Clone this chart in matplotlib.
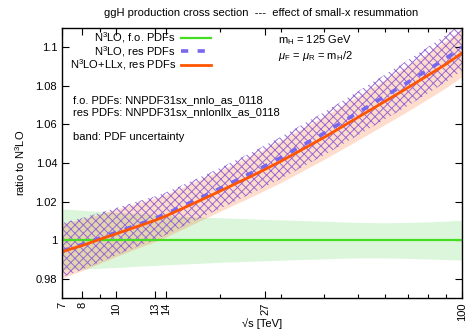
import numpy as np
import matplotlib
matplotlib.use("Agg")
import matplotlib.pyplot as plt
from matplotlib.lines import Line2D
from matplotlib.ticker import FixedLocator, FixedFormatter

plt.rcParams['font.family'] = ['Liberation Sans', 'DejaVu Sans']
plt.rcParams['mathtext.fontset'] = 'custom'
plt.rcParams['mathtext.rm'] = 'Liberation Sans'
plt.rcParams['mathtext.it'] = 'Liberation Sans:italic'
plt.rcParams['hatch.linewidth'] = 0.7

# collider energy sqrt(s) in TeV
sqrts = [7, 8, 9, 10, 12, 13, 14, 17.5, 20, 25, 27, 30, 40, 50, 60, 70, 80, 90, 100]

# N3LO with fixed-order PDFs (reference, ratio = 1) and its PDF band
fo = [1.0, 1.0, 1.0, 1.0, 1.0, 1.0, 1.0, 1.0, 1.0, 1.0,
      1.0, 1.0, 1.0, 1.0, 1.0, 1.0, 1.0, 1.0, 1.0]
fo_lo = [0.9846, 0.9850, 0.9854, 0.9858, 0.9866, 0.9869, 0.9872, 0.9880, 0.9885, 0.9891,
         0.9893, 0.9896, 0.9903, 0.9908, 0.9908, 0.9905, 0.9902, 0.9899, 0.9897]
fo_hi = [1.0162, 1.0155, 1.0149, 1.0144, 1.0136, 1.0132, 1.0128, 1.0120, 1.0116, 1.0110,
         1.0108, 1.0105, 1.0098, 1.0092, 1.0090, 1.0092, 1.0095, 1.0099, 1.0103]

# N3LO with resummed PDFs
res = [0.9944, 0.9977, 1.0010, 1.0039, 1.0090, 1.0113, 1.0137, 1.0218, 1.0268, 1.0354,
       1.0385, 1.0428, 1.0555, 1.0661, 1.0747, 1.0820, 1.0885, 1.0943, 1.1001]
res_lo = [0.9808, 0.9847, 0.9886, 0.9921, 0.9979, 1.0002, 1.0028, 1.0113, 1.0163, 1.0247,
          1.0277, 1.0318, 1.0441, 1.0543, 1.0627, 1.0698, 1.0763, 1.0821, 1.0879]
res_hi = [1.0089, 1.0115, 1.0142, 1.0166, 1.0209, 1.0227, 1.0248, 1.0326, 1.0374, 1.0460,
          1.0492, 1.0536, 1.0664, 1.0771, 1.0859, 1.0935, 1.1003, 1.1064, 1.1126]

# N3LO+LLx with resummed PDFs
llx = [0.9940, 0.9972, 1.0004, 1.0032, 1.0081, 1.0103, 1.0126, 1.0205, 1.0254, 1.0337,
       1.0367, 1.0409, 1.0533, 1.0636, 1.0720, 1.0792, 1.0856, 1.0913, 1.0970]
llx_lo = [0.9804, 0.9842, 0.9880, 0.9914, 0.9970, 0.9992, 1.0017, 1.0100, 1.0149, 1.0230,
          1.0259, 1.0299, 1.0419, 1.0518, 1.0600, 1.0670, 1.0734, 1.0791, 1.0848]
llx_hi = [1.0085, 1.0110, 1.0136, 1.0159, 1.0200, 1.0217, 1.0237, 1.0313, 1.0360, 1.0443,
          1.0474, 1.0517, 1.0642, 1.0746, 1.0832, 1.0907, 1.0974, 1.1034, 1.1095]

xticks = [7, 8, 10, 13, 14, 27, 100]
xminor = [9, 20, 30, 40, 50, 60, 70, 80, 90]
yticks = [0.98, 1.0, 1.02, 1.04, 1.06, 1.08, 1.1]

green = '#44dd22'
orange = '#ff5500'
purple = '#7766ee'
hatchcol = '#9a6ad0'

fig = plt.figure(figsize=(4.67, 3.30), dpi=100)
ax = fig.add_axes([0.1328, 0.0970, 0.8565, 0.8182])

ax.fill_between(sqrts, fo_lo, fo_hi, color='#33cc33', alpha=0.17, lw=0)
ax.fill_between(sqrts, llx_lo, llx_hi, color='#ff5500', alpha=0.2, lw=0)
ax.fill_between(sqrts, res_lo, res_hi, facecolor='none', edgecolor=hatchcol,
                hatch='xxxx', lw=0)

ax.plot(sqrts, fo, color=green, lw=1.6)
ax.plot(sqrts, res, color=purple, lw=2.6, dashes=(2.0, 2.6))
ax.plot(sqrts, llx, color=orange, lw=2.0)

ax.set_xscale('log')
ax.set_xlim(7, 100)
ax.set_ylim(0.97, 1.11)

ax.xaxis.set_major_locator(FixedLocator(xticks))
ax.xaxis.set_major_formatter(FixedFormatter([str(t) for t in xticks]))
ax.xaxis.set_minor_locator(FixedLocator(xminor))
ax.xaxis.set_minor_formatter(FixedFormatter([''] * len(xminor)))
ax.set_yticks(yticks)
ax.set_yticklabels(['%g' % t for t in yticks])

ax.tick_params(which='both', direction='in', top=True, right=True, labelsize=8)
ax.tick_params(which='major', length=5, width=0.8)
ax.tick_params(which='minor', length=3, width=0.8)
ax.tick_params(axis='x', labelrotation=90, pad=3)
for lab in ax.get_xticklabels():
    lab.set_va('top')
for sp in ax.spines.values():
    sp.set_linewidth(1.0)

ax.set_xlabel('\u221as [TeV]', fontsize=8, labelpad=-2)
ax.set_ylabel('ratio to N$^3$LO', fontsize=8, labelpad=6)
fig.suptitle('ggH production cross section  ---  effect of small-x resummation',
             x=0.56, y=0.975, fontsize=8)

handles = [Line2D([], [], color=green, lw=1.6),
           Line2D([], [], color=purple, lw=2.6, dashes=(2.0, 2.6)),
           Line2D([], [], color=orange, lw=2.0)]
labels = ['N$^3$LO, f.o. PDFs', 'N$^3$LO, res PDFs', 'N$^3$LO+LLx, res PDFs']
ax.legend(handles, labels, loc='upper right', bbox_to_anchor=(0.3925, 1.02),
          markerfirst=False, alignment='right', frameon=False, fontsize=8,
          handlelength=2.7, handletextpad=0.45, labelspacing=-0.12, borderpad=0.2)

ax.text(0.54, 0.956, 'm$_\\mathrm{H}$ = 125 GeV', transform=ax.transAxes,
        fontsize=8, va='center')
ax.text(0.54, 0.898, '$\\mu_\\mathrm{F}$ = $\\mu_\\mathrm{R}$ = m$_\\mathrm{H}$/2',
        transform=ax.transAxes, fontsize=8, va='center')
ax.text(0.028, 0.733, 'f.o. PDFs: NNPDF31sx_nnlo_as_0118', transform=ax.transAxes,
        fontsize=8, va='center')
ax.text(0.028, 0.689, 'res PDFs: NNPDF31sx_nnlonllx_as_0118', transform=ax.transAxes,
        fontsize=8, va='center')
ax.text(0.028, 0.596, 'band: PDF uncertainty', transform=ax.transAxes,
        fontsize=8, va='center')

fig.savefig('out.png', dpi=100)
